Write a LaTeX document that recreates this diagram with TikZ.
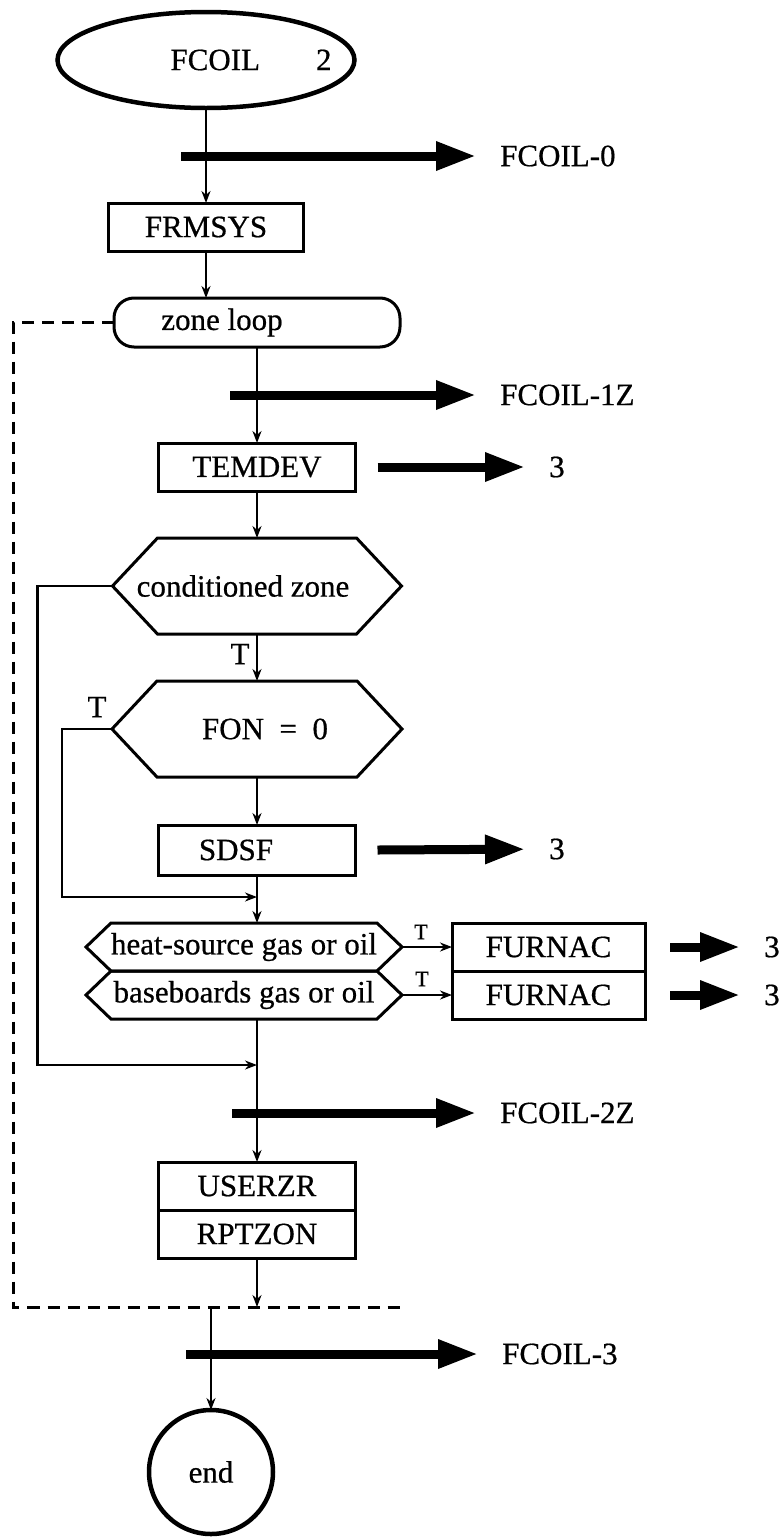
\documentclass[tikz,border=0pt]{standalone}
\usepackage{fontspec}
\setmainfont{Liberation Serif}[FakeBold=0.6]
\usetikzlibrary{arrows.meta,positioning,shapes.geometric}

% text shifted sideways inside its node (shift = half of #1)
\newcommand{\nudge}[2]{\makebox[0pt]{\hspace*{#1}#2}}
% six-sided outline round a (borderless) node
\newcommand{\hexagonal}[2]{%
  \draw[shapeline] ([xshift=#2]#1.north west) -- ([xshift=-#2]#1.north east)
    -- (#1.east) -- ([xshift=-#2]#1.south east) -- ([xshift=#2]#1.south west)
    -- (#1.west) -- cycle;}

\tikzset{
  shapeline/.style={line width=3pt, line join=miter},
  box/.style={
    rectangle,
    draw,
    line width=3pt,
    outer sep=0pt,
    inner sep=0pt,
    minimum width=197pt,
    minimum height=48pt
  },
  hexnode/.style={rectangle, draw=none, outer sep=0pt, inner sep=0pt},
  terminal/.style={ellipse, draw, line width=4.5pt, outer sep=0pt, inner sep=0pt},
  loopbox/.style={box, rounded corners=20pt, minimum width=286pt, minimum height=49pt},
  outlabel/.style={anchor=west, inner sep=0pt},
  tlabel/.style={inner sep=0pt},
  arrow/.style={-{Stealth[length=12pt,width=9pt]}, line width=2.2pt},
  bigarrow/.style={-{Triangle[length=40pt,width=27pt]}, line width=9pt, shorten >=24pt},
  loopline/.style={dash pattern=on 12pt off 8pt, line width=3pt}
}

\begin{document}
\begin{tikzpicture}[x=1pt, y=-1pt, font=\fontsize{31}{36}\selectfont]
  \useasboundingbox[fill=white] (0,0) rectangle (782,1537);

  % set-up and loop head
  \node[terminal, minimum width=297pt, minimum height=96pt] (start) at (206,60) {\nudge{90pt}{FCOIL\hspace{56pt}2}};
  \node[box, minimum width=195pt, below=95pt of start] (frmsys) {FRMSYS};
  \node[loopbox] (zone) at (257,322.5) {\nudge{-70pt}{zone loop}};
  \node[box, below=96pt of zone] (temdev) {TEMDEV};
  \node[hexnode, minimum width=289pt, minimum height=96pt, below=47pt of temdev] (cond) {\nudge{-28pt}{conditioned zone}};
  \node[hexnode, minimum width=290pt, minimum height=96pt, below=47pt of cond] (fon) {\nudge{16pt}{FON\hspace{0.5em}=\hspace{0.5em}0}};
  \node[box, minimum height=50pt, below=48pt of fon] (sdsf) {\nudge{-42pt}{SDSF}};
  \node[hexnode, minimum width=316pt, minimum height=48pt] (heat) at (244,947) {heat-source gas or oil};
  \node[hexnode, minimum width=316pt, minimum height=48pt, below=0pt of heat] (base) {baseboards gas or oil};
  \node[box, minimum width=193pt, right=50pt of heat] (furnA) {FURNAC};
  \node[box, minimum width=193pt, right=50pt of base] (furnB) {FURNAC};
  \node[box] (userzr) at (257,1186) {USERZR};
  \node[box, below=0pt of userzr] (rptzon) {RPTZON};
  \node[terminal, circle, minimum size=124pt] (endc) at (211,1472) {end};

  \hexagonal{cond}{45pt}
  \hexagonal{fon}{45pt}
  \hexagonal{heat}{25pt}
  \hexagonal{base}{25pt}

  % outputs
  \node[outlabel] (fc0) at (500,156) {FCOIL-0};
  \node[outlabel] (fc1) at (500,395) {FCOIL-1Z};
  \node[outlabel] (out3a) at (549,467) {3};
  \node[outlabel] (out3b) at (549,849) {3};
  \node[outlabel] (out3c) at (764,947) {3};
  \node[outlabel] (out3d) at (764,995) {3};
  \node[outlabel] (fc2) at (500,1113) {FCOIL-2Z};
  \node[outlabel] (fc3) at (502,1354) {FCOIL-3};

  \node[tlabel] (tcond) at (240,654) {T};
  \node[tlabel] (tfon) at (97,707) {T};
  \node[tlabel, font=\fontsize{22}{26}\selectfont] (theat) at (421,932) {T};
  \node[tlabel, font=\fontsize{22}{26}\selectfont] (tbase) at (422,979) {T};

  \coordinate (tap0) at (181,156);
  \coordinate (tap1) at (230,395);
  \coordinate (tap2) at (232,1113);
  \coordinate (tap3) at (186,1354);
  \coordinate (mergeA) at (257,897);
  \coordinate (mergeB) at (257,1065);
  \coordinate (loopL) at (13,1307);
  \coordinate (loopR) at (407,1307);

  % flow
  \draw[arrow] (start) -- (frmsys);
  \draw[arrow] (frmsys.south) -- (frmsys.south |- zone.north);
  \draw[arrow] (zone) -- (temdev);
  \draw[arrow] (temdev) -- (cond);
  \draw[arrow] (cond) -- (fon);
  \draw[arrow] (fon) -- (sdsf);
  \draw[arrow] (sdsf.south) -- (sdsf.south |- heat.north);
  \draw[arrow] (fon.west) -- ++(-50,0) |- (mergeA);
  \draw[arrow] (cond.west) -- ++(-75,0) |- (mergeB);
  \draw[arrow] (heat.east) -- (furnA);
  \draw[arrow] (base.east) -- (furnB);
  \draw[arrow] (userzr.north |- base.south) -- (userzr);
  \draw[arrow] (rptzon) -- (rptzon |- loopR);
  \draw[arrow] (endc |- loopR) -- (endc);
  \draw[loopline] (zone.west) -| (loopL) -- (loopR);

  \draw[bigarrow] (tap0) -- (fc0);
  \draw[bigarrow] (tap1) -- (fc1);
  \draw[bigarrow] ([xshift=22pt]temdev.east) -- (out3a);
  \draw[bigarrow] ([xshift=22pt]sdsf.east) -- (out3b);
  \draw[bigarrow] ([xshift=25pt]furnA.east) -- (out3c);
  \draw[bigarrow] ([xshift=25pt]furnB.east) -- (out3d);
  \draw[bigarrow] (tap2) -- (fc2);
  \draw[bigarrow] (tap3) -- (fc3);
\end{tikzpicture}
\end{document}
